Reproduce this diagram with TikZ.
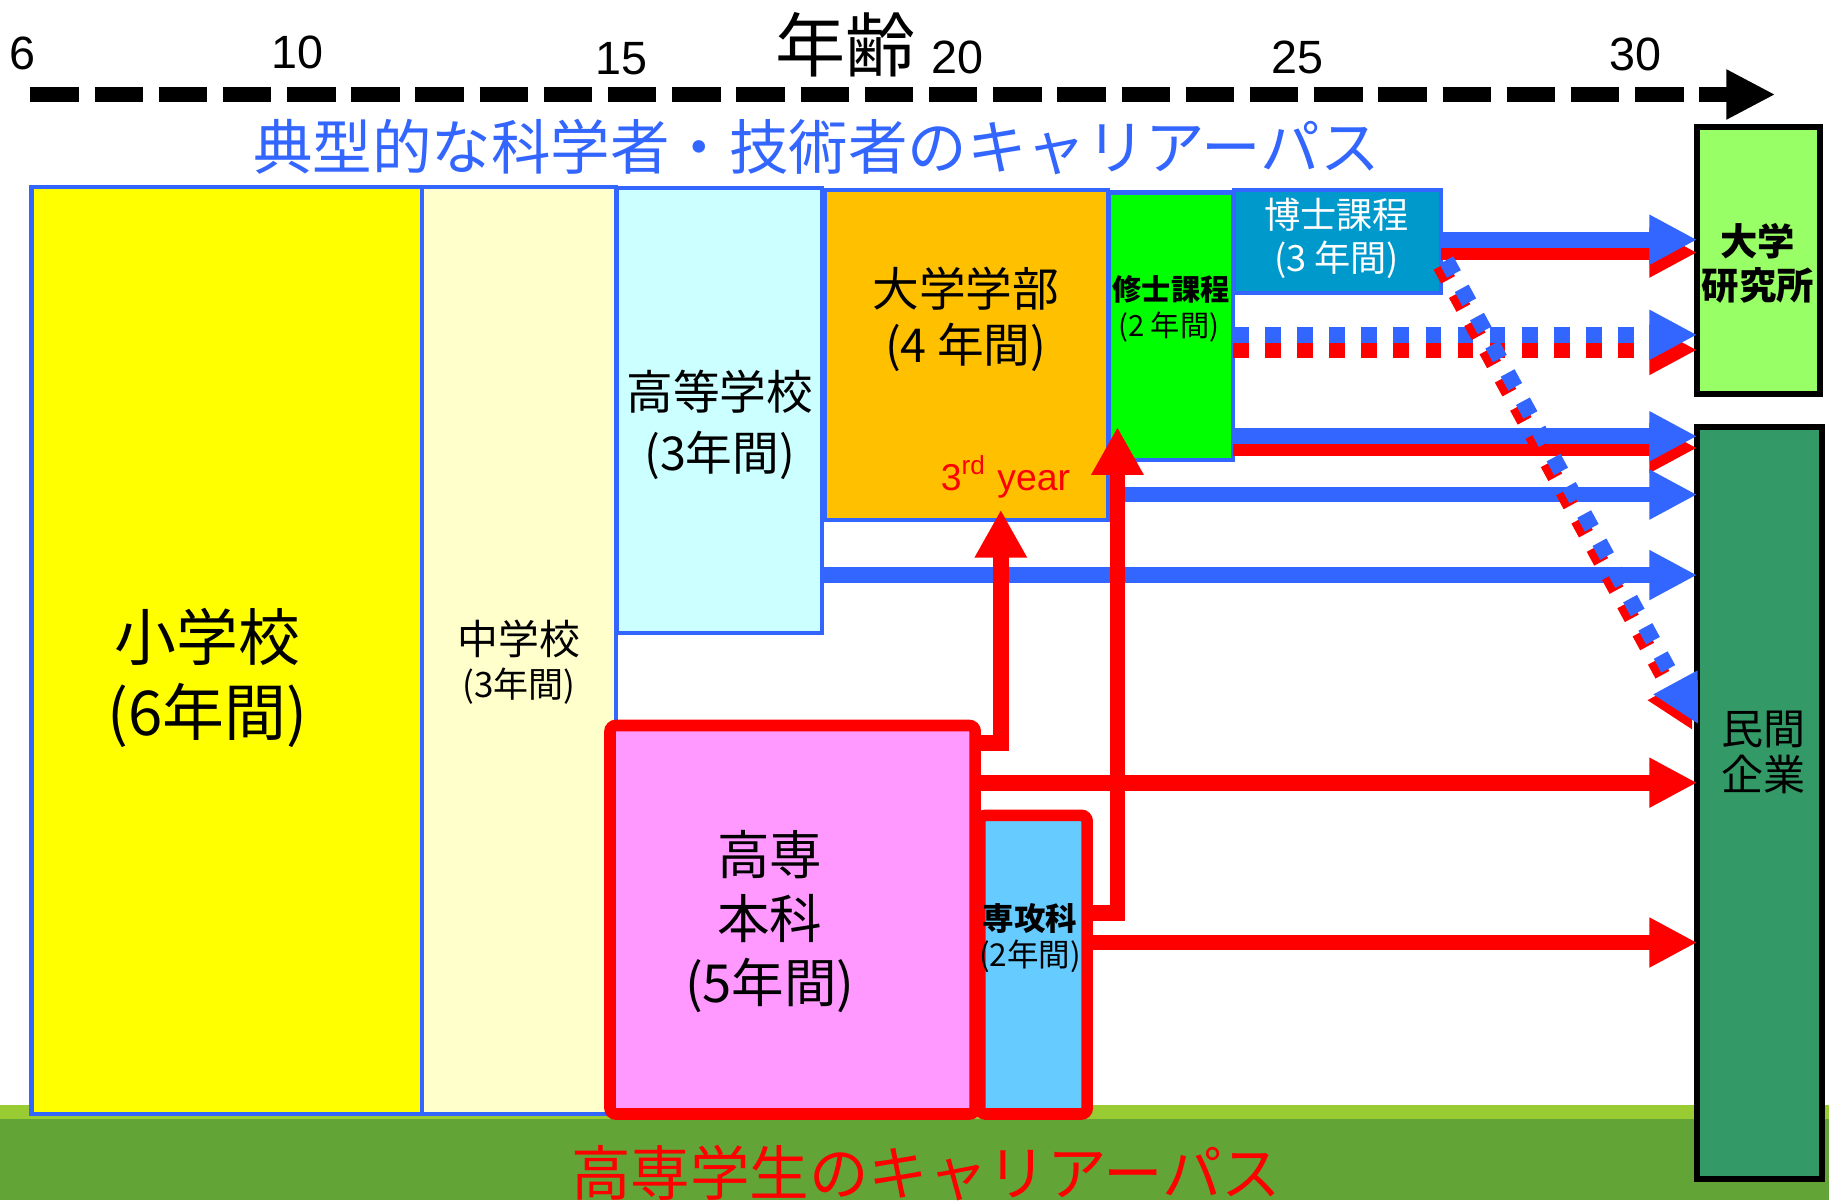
\documentclass[tikz,border=0pt]{standalone}
\usepackage{fontspec}
\setmainfont{Noto Sans CJK JP}
\newfontfamily\lat{Liberation Sans}
\usetikzlibrary{arrows.meta,fit}
\newcommand\fsz[2]{\fontsize{#1mm}{#2mm}\selectfont}
\definecolor{cblue}{HTML}{3366FF}
\definecolor{yel}{HTML}{FFFF00}
\definecolor{lyel}{HTML}{FFFFCC}
\definecolor{lcyan}{HTML}{CCFFFF}
\definecolor{orng}{HTML}{FFC000}
\definecolor{grn}{HTML}{00FF00}
\definecolor{tealb}{HTML}{0099CC}
\definecolor{lgrn}{HTML}{99FF66}
\definecolor{dgrn}{HTML}{339966}
\definecolor{pinkb}{HTML}{FF99FF}
\definecolor{sky}{HTML}{66CCFF}
\definecolor{gl}{HTML}{99CC33}
\definecolor{gd}{HTML}{63A436}
\begin{document}
\begin{tikzpicture}[x=0.01cm,y=-0.01cm,
  box/.style={rectangle, inner sep=0pt, outer sep=0pt, draw=cblue, line width=0.35mm},
  kbox/.style={rectangle, inner sep=0pt, outer sep=0pt, draw=red, line width=1mm, rounded corners=0.5mm},
  obox/.style={rectangle, inner sep=0pt, outer sep=0pt, draw=black, line width=0.5mm},
  txt/.style={align=center, inner sep=0pt},
  tick/.style={inner sep=0pt, font=\lat\fsz{4}{4.8}},
  head/.style={-{Triangle[length=4.1mm,width=4mm]}},
  barrow/.style={draw=cblue, line width=1.35mm, head},
  rarrow/.style={draw=red, line width=1.35mm, head},
  rup/.style={draw=red, line width=1.35mm, -{Triangle[length=4.1mm,width=4.2mm]}},
  dots/.style={dash pattern=on 1.35mm off 1.4mm}
]
\path[use as bounding box] (0,0) rectangle (1568,1029);
\clip (0,0) rectangle (1568,1029);
% ground
\fill[gl] (0,947) rectangle (1568,960);
\fill[gd] (0,959) rectangle (1568,1029);

% age axis
\coordinate (axS) at (26,81);
\coordinate (axE) at (1522,81);
\draw[line width=1.3mm, dash pattern=on 4.15mm off 1.35mm, -{Triangle[length=4.2mm,width=4mm]}] (axS) -- (axE);
\node[tick] (t6) at (19.5,46) {6};
\node[tick] (t10) at (255,45) {10};
\node[tick] (t15) at (533,50) {15};
\node[tick] (t20) at (821,49) {20};
\node[tick] (t25) at (1112,49) {25};
\node[tick] (t30) at (1402,47) {30};
\node[inner sep=0pt, font=\fsz{6.0}{7}] (age) at (725,38) {年齢};
\node[inner sep=0pt, text=cblue, font=\fsz{5.1}{6}] (title) at (700,126) {典型的な科学者・技術者のキャリアーパス};

% boxes
\node[box, fill=yel, fit={(27,160)(362,955)}] (sho) {};
\node[box, fill=lyel, fit={(362,160)(528,955)}] (chu) {};
\node[box, fill=lcyan, fit={(529,161)(705,543)}] (kou) {};
\node[box, fill=orng, fit={(707,163)(950,446)}] (gak) {};
\node[box, fill=grn, fit={(951,165)(1057,394)}] (shu) {};
\node[box, fill=tealb, fit={(1058,163)(1235,251)}] (hak) {};
\node[kbox, fill=pinkb, fit={(523,622)(836,955)}] (hon) {};
\node[kbox, fill=sky, fit={(840,699)(932,955)}] (sen) {};
\node[obox, fill=lgrn, fit={(1455,109)(1560,338)}] (ken) {};
\node[obox, fill=dgrn, fit={(1455,366)(1562,1011)}] (min) {};

% levels
\coordinate (b1) at (0,205.5);
\coordinate (r1) at (0,216.5);
\coordinate (b2) at (0,287);
\coordinate (r2) at (0,300);
\coordinate (b3) at (0,374);
\coordinate (r3) at (0,384);
\coordinate (b4) at (0,424);
\coordinate (b5) at (0,493);
\coordinate (r6) at (0,671);
\coordinate (r7) at (0,808);
\coordinate (s1) at (0,637);
\coordinate (s2) at (0,783);
\coordinate (tip1) at (858,437);
\coordinate (tip2) at (958,366);
\coordinate (dbS) at (1240,223);
\coordinate (dbE) at (1456,621);
\coordinate (drS) at (1235,228);
\coordinate (drE) at (1451,626);

% arrows
\draw[rarrow] (hak.east |- r1) -- (ken.west |- r1);
\draw[barrow] (hak.east |- b1) -- (ken.west |- b1);
\draw[rarrow, dots] (shu.east |- r2) -- (ken.west |- r2);
\draw[barrow, dots] (shu.east |- b2) -- (ken.west |- b2);
\draw[rarrow] (shu.east |- r3) -- (min.west |- r3);
\draw[barrow] (shu.east |- b3) -- (min.west |- b3);
\draw[barrow] (gak.east |- b4) -- (min.west |- b4);
\draw[barrow] (kou.east |- b5) -- (min.west |- b5);
\draw[rarrow, dots] (drS) -- (drE);
\draw[barrow, dots] (dbS) -- (dbE);
\draw[rarrow] (hon.east |- r6) -- (min.west |- r6);
\draw[rarrow] (sen.east |- r7) -- (min.west |- r7);
\draw[rup] (hon.east |- s1) -| (tip1);
\draw[rup] (sen.east |- s2) -| (tip2);

% texts
\node[txt, font=\fsz{5.3}{6.4}] (tsho) at (178,581) {小学校\\(6年間)};
\node[txt, font=\fsz{3.5}{4}] (tchu1) at (445,548) {中学校};
\node[txt, font=\fsz{3.0}{3.6}] (tchu2) at (445,588) {(3年間)};
\node[txt, font=\fsz{4.0}{5.2}] (tkou) at (617,364) {高等学校\\(3年間)};
\node[txt, font=\fsz{4.0}{4.8}] (tgak) at (828,274) {大学学部\\(4 年間)};
\node[txt, font=\bfseries\fsz{2.5}{3}] (tshu1) at (1004,248) {修士課程};
\node[txt, font=\fsz{2.5}{3}] (tshu2) at (1002,280) {(2 年間)};
\node[txt, text=white, font=\fsz{3.1}{3.7}] (thak) at (1146,204) {博士課程\\(3 年間)};
\node[txt, font=\bfseries\fsz{3.2}{3.8}] (tken) at (1507,226) {大学\\研究所};
\node[txt, font=\fsz{3.6}{4.0}] (tmin) at (1512,645) {民間\\企業};
\node[txt, font=\fsz{4.5}{5.5}] (thon) at (660,790) {高専\\本科\\(5年間)};
\node[txt, font=\bfseries\fsz{2.7}{3.2}] (tsen1) at (883,787) {専攻科};
\node[txt, font=\fsz{2.7}{3.2}] (tsen2) at (883,820) {(2年間)};
\node[inner sep=0pt, text=red, font=\lat\fsz{3.2}{3.8}] (t3rd) at (862,409) {3\textsuperscript{rd} year};
\node[inner sep=0pt, text=red, font=\fsz{5.1}{6}] (tbot) at (794,1006) {高専学生のキャリアーパス};
\end{tikzpicture}
\end{document}
